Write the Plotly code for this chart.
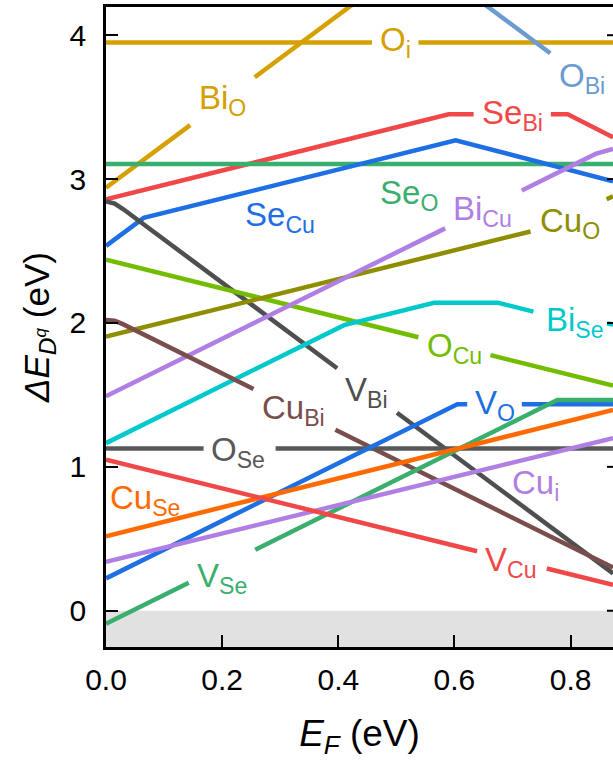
import numpy as np
import plotly.graph_objects as go

# ---------------- data (kink points of each defect formation-energy line) ----------------
X_MAX = 0.873

defects = {
    "O_i":   {"x": [0, X_MAX],                      "y": [3.95, 3.95]},
    "Bi_O":  {"x": [0, 0.45],                       "y": [2.94, 4.29]},
    "O_Bi":  {"x": [0.60, X_MAX],                   "y": [4.37, 3.55]},
    "Se_Bi": {"x": [0, 0.59, 0.795, X_MAX],         "y": [2.86, 3.45, 3.45, 3.29]},
    "Se_O":  {"x": [0, X_MAX],                      "y": [3.105, 3.105]},
    "Se_Cu": {"x": [0, 0.065, 0.602, X_MAX],        "y": [2.536, 2.73, 3.27, 2.985]},
    "V_Bi":  {"x": [0, 0.015, 0.03, X_MAX],         "y": [2.845, 2.83, 2.79, 0.26]},
    "O_Cu":  {"x": [0, X_MAX],                      "y": [2.44, 1.565]},
    "Cu_O":  {"x": [0, 0.75, X_MAX],                "y": [1.905, 2.655, 2.88]},
    "Bi_Cu": {"x": [0, 0.843, X_MAX],               "y": [1.49, 3.175, 3.21]},
    "Bi_Se": {"x": [0, 0.41, 0.565, 0.675, 0.745, X_MAX], "y": [1.165, 1.985, 2.14, 2.14, 2.07, 1.99]},
    "Cu_Bi": {"x": [0, 0.015, 0.03, X_MAX],         "y": [2.02, 2.015, 1.99, 0.30]},
    "O_Se":  {"x": [0, X_MAX],                      "y": [1.128, 1.128]},
    "V_O":   {"x": [0, 0.605, X_MAX],               "y": [0.225, 1.435, 1.435]},
    "V_Se":  {"x": [0, 0.777, X_MAX],               "y": [-0.09, 1.464, 1.464]},
    "Cu_Se": {"x": [0, X_MAX],                      "y": [0.518, 1.395]},
    "Cu_i":  {"x": [0, X_MAX],                      "y": [0.34, 1.20]},
    "V_Cu":  {"x": [0, X_MAX],                      "y": [1.05, 0.18]},
}

# label text, gaps in the line for the label, label position (data coords)
labels = {
    "O_i":   ("O<sub>i</sub>",   [(0.458, 0.538)], (0.498, 3.95)),
    "Bi_O":  ("Bi<sub>O</sub>",  [(0.145, 0.256)], (0.200, 3.55)),
    "O_Bi":  ("O<sub>Bi</sub>",  [(0.765, X_MAX + 0.01)], (0.820, 3.705)),
    "Se_Bi": ("Se<sub>Bi</sub>", [(0.633, 0.766)], (0.700, 3.447)),
    "Se_O":  ("Se<sub>O</sub>",  [], (0.521, 2.89)),
    "Se_Cu": ("Se<sub>Cu</sub>", [], (0.300, 2.737)),
    "V_Bi":  ("V<sub>Bi</sub>",  [(0.398, 0.501)], (0.448, 1.52)),
    "O_Cu":  ("O<sub>Cu</sub>",  [(0.538, 0.662)], (0.600, 1.826)),
    "Cu_O":  ("Cu<sub>O</sub>",  [(0.731, 0.862)], (0.799, 2.696)),
    "Bi_Cu": ("Bi<sub>Cu</sub>", [(0.584, 0.716)], (0.648, 2.779)),
    "Bi_Se": ("Bi<sub>Se</sub>", [(0.736, 0.863)], (0.808, 2.007)),
    "Cu_Bi": ("Cu<sub>Bi</sub>", [(0.254, 0.395)], (0.323, 1.395)),
    "O_Se":  ("O<sub>Se</sub>",  [(0.168, 0.292)], (0.228, 1.103)),
    "V_O":   ("V<sub>O</sub>",   [(0.622, 0.716)], (0.669, 1.433)),
    "V_Se":  ("V<sub>Se</sub>",  [(0.1425, 0.257)], (0.2005, 0.226)),
    "Cu_Se": ("Cu<sub>Se</sub>", [], (0.068, 0.769)),
    "Cu_i":  ("Cu<sub>i</sub>",  [], (0.739, 0.873)),
    "V_Cu":  ("V<sub>Cu</sub>",  [(0.639, 0.759)], (0.698, 0.337)),
}

colors = {
    "O_i": "#D5A000", "Bi_O": "#D5A000", "O_Bi": "#6A9BD1",
    "Se_Bi": "#F04848", "Se_O": "#3AAE6C", "Se_Cu": "#1E6FE3",
    "V_Bi": "#4F4F4F", "O_Cu": "#72BD00", "Cu_O": "#8E8E00",
    "Bi_Cu": "#B07FE3", "Bi_Se": "#00C9CC", "Cu_Bi": "#7B4E4E",
    "O_Se": "#585858", "V_O": "#1E6FE3", "V_Se": "#3AAE6C",
    "Cu_Se": "#FF6A00", "Cu_i": "#B07FE3", "V_Cu": "#F04848",
}

x_ticks = [0.0, 0.2, 0.4, 0.6, 0.8]
x_ticklabels = ["0.0", "0.2", "0.4", "0.6", "0.8"]
y_ticks = [0, 1, 2, 3, 4]
Y_RANGE = [-0.252, 4.196]

FONT = "Liberation Sans, Arial, sans-serif"


def split_with_gaps(xs, ys, gaps):
    xs = list(xs)
    cuts = []
    for g0, g1 in gaps:
        cuts += [g0, g1]
    allx = sorted(set(xs + [c for c in cuts if xs[0] <= c <= xs[-1]]))
    ally = list(np.interp(allx, xs, ys))
    out_x, out_y = [], []
    for xv, yv in zip(allx, ally):
        if any(g0 < xv < g1 for g0, g1 in gaps):
            continue
        out_x.append(xv)
        out_y.append(yv)
        if any(abs(xv - g0) < 1e-9 for g0, g1 in gaps):
            out_x.append(None)
            out_y.append(None)
    return out_x, out_y


fig = go.Figure()

for name, d in defects.items():
    gaps = labels[name][1]
    lx, ly = split_with_gaps(d["x"], d["y"], gaps)
    fig.add_trace(go.Scatter(
        x=lx, y=ly, mode="lines",
        line=dict(color=colors[name], width=4.5),
        hoverinfo="skip", showlegend=False, connectgaps=False, cliponaxis=True,
    ))

for name, (txt, gaps, (tx, ty)) in labels.items():
    fig.add_annotation(
        x=tx, y=ty, xref="x", yref="y", text=txt, showarrow=False,
        font=dict(family=FONT, size=33, color=colors[name]),
        xanchor="center", yanchor="middle",
    )

# grey region below zero
fig.add_shape(type="rect", xref="paper", yref="y", x0=0, x1=1,
              y0=Y_RANGE[0], y1=0, fillcolor="#E1E1E1", line_width=0, layer="below")

# right-hand mirrored ticks (axis itself lies just outside the picture)
for yt in y_ticks:
    fig.add_shape(type="line", xref="paper", yref="y", x0=1 - 6 / 507, x1=1,
                  y0=yt, y1=yt, line=dict(color="black", width=2))

fig.update_layout(
    width=613, height=776,
    margin=dict(l=106, r=0, t=7, b=129),
    paper_bgcolor="white", plot_bgcolor="white",
    font=dict(family=FONT, color="black"),
)

fig.update_xaxes(
    range=[0, X_MAX], tickvals=x_ticks, ticktext=x_ticklabels,
    ticks="inside", ticklen=12, tickwidth=2, tickcolor="black",
    showline=True, linewidth=2.5, linecolor="black", mirror=True,
    showgrid=False, zeroline=False,
    tickfont=dict(family=FONT, size=30, color="black"),
    ticklabelstandoff=4,
    title=dict(text="<i>E<sub>F</sub></i> (eV)", font=dict(family=FONT, size=37, color="black"), standoff=26),
)
fig.update_yaxes(
    range=Y_RANGE, tickvals=y_ticks,
    ticks="inside", ticklen=12, tickwidth=2, tickcolor="black",
    showline=True, linewidth=2.5, linecolor="black", mirror=False,
    showgrid=False, zeroline=False,
    tickfont=dict(family=FONT, size=30, color="black"),
    ticklabelstandoff=11,
    title=dict(text="<i>ΔE</i><sub><i>D<sup>q</sup></i></sub> (eV)", font=dict(family=FONT, size=35, color="black"), standoff=10),
)

fig.write_html("out.html", config={"displayModeBar": False},
               post_script="document.body.style.margin='0px';document.body.style.overflow='hidden';")
